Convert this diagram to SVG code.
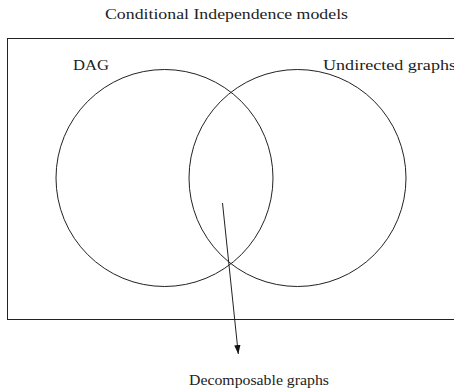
<svg xmlns="http://www.w3.org/2000/svg" width="454" height="390" viewBox="0 0 454 390">
<style>
text{font-family:'Liberation Serif','DejaVu Serif',serif;font-size:14.5px;fill:#222}
.s{fill:none;stroke:#222;stroke-width:1}
</style>
<defs>
<marker id="ah" viewBox="0 0 10 10" refX="10" refY="5" markerWidth="9" markerHeight="9" markerUnits="userSpaceOnUse" orient="auto">
<path d="M0,1.5 L10,5 L0,8.5 z" fill="#111"/>
</marker>
</defs>
<rect width="454" height="390" fill="#fff"/>
<g id="title"><text x="105" y="19" textLength="243" lengthAdjust="spacingAndGlyphs" font-family="Liberation Serif, serif">Conditional Independence models</text></g>
<g id="universe"><rect class="s" x="7.5" y="38.5" width="460" height="281"/></g>
<g id="dag"><circle class="s" cx="164.5" cy="178" r="108.5"/><text x="73" y="70" textLength="36" lengthAdjust="spacingAndGlyphs" font-family="Liberation Serif, serif">DAG</text></g>
<g id="undirected"><circle class="s" cx="297.5" cy="178" r="108.5"/><text x="323" y="70" textLength="133" lengthAdjust="spacingAndGlyphs" font-family="Liberation Serif, serif">Undirected graphs</text></g>
<g id="decomposable"><text x="189" y="385" textLength="140" lengthAdjust="spacingAndGlyphs" font-family="Liberation Serif, serif">Decomposable graphs</text></g>
<g id="connectors"><line class="s" x1="222.5" y1="203" x2="238.3" y2="354" marker-end="url(#ah)"/></g>
</svg>
